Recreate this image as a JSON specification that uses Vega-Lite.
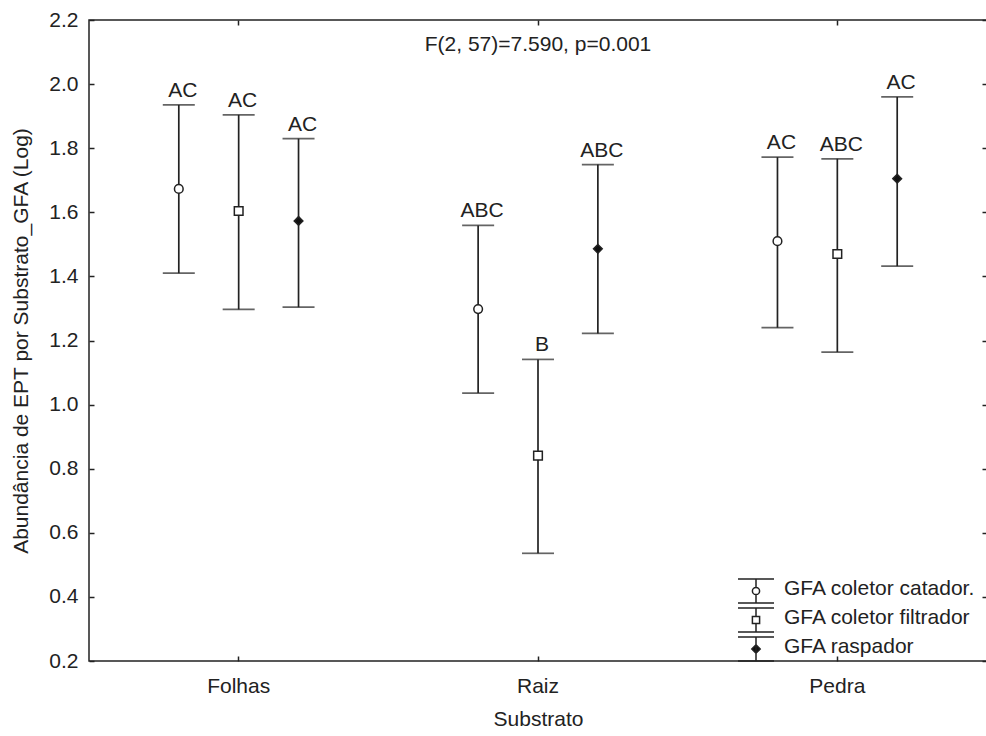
{
  "$schema": "https://vega.github.io/schema/vega-lite/v6.json",
  "width": 898,
  "height": 641,
  "autosize": "none",
  "padding": {"left": 89, "top": 20, "right": 0, "bottom": 75},
  "background": "white",
  "config": {
    "font": "Liberation Sans",
    "view": {"stroke": "#222", "strokeWidth": 1.5},
    "axis": {"grid": false, "domain": false, "tickColor": "#222", "tickWidth": 1.5, "labelColor": "#222", "titleColor": "#222", "labelFontSize": 21, "titleFontSize": 21, "titleFontWeight": "normal"}
  },
  "title": {"text": "F(2, 57)=7.590, p=0.001", "fontSize": 21, "fontWeight": "normal", "color": "#222", "anchor": "middle", "offset": -63, "baseline": "alphabetic"},
  "data": {"values": [
    {"substrato": "Folhas", "gfa": "GFA coletor catador.", "lower": 1.410, "mean": 1.673, "upper": 1.935, "label": "AC"},
    {"substrato": "Folhas", "gfa": "GFA coletor filtrador", "lower": 1.297, "mean": 1.604, "upper": 1.904, "label": "AC"},
    {"substrato": "Folhas", "gfa": "GFA raspador", "lower": 1.304, "mean": 1.573, "upper": 1.830, "label": "AC"},
    {"substrato": "Raiz", "gfa": "GFA coletor catador.", "lower": 1.036, "mean": 1.298, "upper": 1.559, "label": "ABC"},
    {"substrato": "Raiz", "gfa": "GFA coletor filtrador", "lower": 0.536, "mean": 0.841, "upper": 1.141, "label": "B"},
    {"substrato": "Raiz", "gfa": "GFA raspador", "lower": 1.222, "mean": 1.486, "upper": 1.749, "label": "ABC"},
    {"substrato": "Pedra", "gfa": "GFA coletor catador.", "lower": 1.240, "mean": 1.510, "upper": 1.772, "label": "AC"},
    {"substrato": "Pedra", "gfa": "GFA coletor filtrador", "lower": 1.164, "mean": 1.470, "upper": 1.767, "label": "ABC"},
    {"substrato": "Pedra", "gfa": "GFA raspador", "lower": 1.432, "mean": 1.705, "upper": 1.960, "label": "AC"}
  ]},
  "encoding": {
    "x": {"field": "substrato", "type": "nominal", "sort": ["Folhas", "Raiz", "Pedra"], "scale": {"paddingInner": 0, "paddingOuter": 0}, "axis": null},
    "xOffset": {"field": "gfa", "type": "nominal", "sort": ["GFA coletor catador.", "GFA coletor filtrador", "GFA raspador"], "scale": {"paddingInner": 0, "paddingOuter": 1.79}}
  },
  "layer": [
    {
      "mark": {"type": "rule", "color": "#222", "strokeWidth": 1.7},
      "encoding": {
        "x": {"field": "substrato", "type": "nominal", "sort": ["Folhas", "Raiz", "Pedra"], "scale": {"paddingInner": 0, "paddingOuter": 0},
              "axis": {"orient": "bottom", "labelAngle": 0, "tickSize": -5, "labelPadding": 19, "titlePadding": 12}, "title": "Substrato"},
        "y": {"field": "lower", "type": "quantitative", "scale": {"domain": [0.2, 2.2], "nice": false, "zero": false},
              "axis": {"orient": "left", "values": [0.2, 0.4, 0.6, 0.8, 1.0, 1.2, 1.4, 1.6, 1.8, 2.0, 2.2], "format": ".1f", "tickSize": -5, "labelPadding": 16, "titlePadding": 17},
              "title": "Abundância de EPT por Substrato_GFA (Log)"},
        "y2": {"field": "upper"}
      }
    },
    {
      "mark": {"type": "tick", "color": "#222", "thickness": 1.7, "size": 32},
      "encoding": {"y": {"field": "upper", "type": "quantitative", "scale": {"domain": [0.2, 2.2], "nice": false, "zero": false}, "axis": null}}
    },
    {
      "mark": {"type": "tick", "color": "#222", "thickness": 1.7, "size": 32},
      "encoding": {"y": {"field": "lower", "type": "quantitative", "scale": {"domain": [0.2, 2.2], "nice": false, "zero": false}, "axis": null}}
    },
    {
      "mark": {"type": "point", "filled": true, "stroke": "#222", "strokeWidth": 1.5, "size": 75, "opacity": 1},
      "encoding": {
        "y": {"field": "mean", "type": "quantitative", "scale": {"domain": [0.2, 2.2], "nice": false, "zero": false}, "axis": null},
        "shape": {"field": "gfa", "type": "nominal", "scale": {"domain": ["GFA coletor catador.", "GFA coletor filtrador", "GFA raspador"], "range": ["circle", "square", "diamond"]}, "legend": null},
        "fill": {"field": "gfa", "type": "nominal", "scale": {"domain": ["GFA coletor catador.", "GFA coletor filtrador", "GFA raspador"], "range": ["white", "white", "#111"]}, "legend": null}
      }
    },
    {
      "mark": {"type": "point", "filled": true, "stroke": "#222", "strokeWidth": 1.5, "opacity": 0},
      "encoding": {
        "y": {"field": "mean", "type": "quantitative", "scale": {"domain": [0.2, 2.2], "nice": false, "zero": false}, "axis": null},
        "shape": {"field": "gfa", "type": "nominal",
          "scale": {"domain": ["GFA coletor catador.", "GFA coletor filtrador", "GFA raspador"],
                    "range": ["M-1.5,-1L1.5,-1M0,-1L0,-0.3M0,0.3L0,1M-1.5,1L1.5,1M0.3,0A0.3,0.3 0 1,1 -0.3,0A0.3,0.3 0 1,1 0.3,0Z",
                              "M-1.5,-1L1.5,-1M0,-1L0,-0.3M0,0.3L0,1M-1.5,1L1.5,1M-0.3,-0.3L0.3,-0.3L0.3,0.3L-0.3,0.3Z",
                              "M-1.5,-1L1.5,-1M0,-1L0,1M-1.5,1L1.5,1M0,-0.35L0.35,0L0,0.35L-0.35,0Z"]},
          "legend": {"title": null, "orient": "none", "legendX": 654, "legendY": 558, "padding": 0, "labelFontSize": 21, "labelLimit": 400, "labelColor": "#222", "symbolSize": 576, "symbolStrokeColor": "#222", "symbolStrokeWidth": 1.5, "labelOffset": 15, "rowPadding": -1, "encode": {"symbols": {"update": {"opacity": {"value": 1}}}, "labels": {"update": {"dy": {"value": -2}}}}}},
        "fill": {"field": "gfa", "type": "nominal",
          "scale": {"domain": ["GFA coletor catador.", "GFA coletor filtrador", "GFA raspador"], "range": ["white", "white", "#111"]},
          "legend": {"title": null, "orient": "none", "legendX": 654, "legendY": 558, "padding": 0, "labelFontSize": 21, "labelLimit": 400, "labelColor": "#222", "symbolSize": 576, "symbolStrokeColor": "#222", "symbolStrokeWidth": 1.5, "labelOffset": 15, "rowPadding": -1, "encode": {"symbols": {"update": {"opacity": {"value": 1}}}, "labels": {"update": {"dy": {"value": -2}}}}}}
      }
    },
    {
      "mark": {"type": "text", "fontSize": 21, "color": "#222", "align": "center", "baseline": "alphabetic", "dx": 4, "dy": -8},
      "encoding": {
        "y": {"field": "upper", "type": "quantitative", "scale": {"domain": [0.2, 2.2], "nice": false, "zero": false}, "axis": null},
        "text": {"field": "label"}
      }
    },
    {
      "mark": {"type": "rule", "strokeOpacity": 0},
      "encoding": {
        "x": {"field": "substrato", "type": "nominal", "sort": ["Folhas", "Raiz", "Pedra"], "scale": {"paddingInner": 0, "paddingOuter": 0},
              "axis": {"orient": "top", "labels": false, "tickSize": -5, "title": null}},
        "y": {"field": "lower", "type": "quantitative", "scale": {"domain": [0.2, 2.2], "nice": false, "zero": false},
              "axis": {"orient": "right", "labels": false, "values": [0.2, 0.4, 0.6, 0.8, 1.0, 1.2, 1.4, 1.6, 1.8, 2.0, 2.2], "tickSize": -5, "title": null}},
        "y2": {"field": "upper"}
      }
    }
  ],
  "resolve": {"scale": {"shape": "independent", "fill": "independent"}, "axis": {"x": "independent", "y": "independent"}}
}
